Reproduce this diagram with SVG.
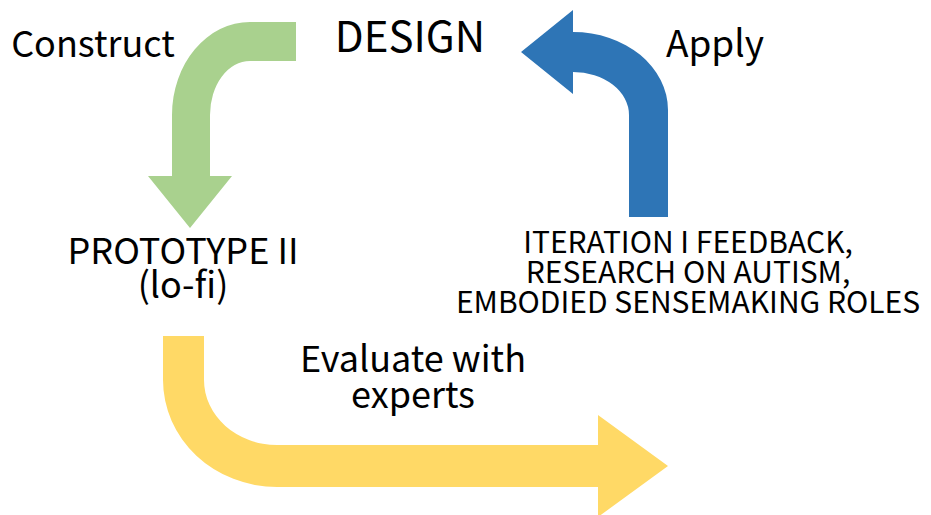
<svg xmlns="http://www.w3.org/2000/svg" width="931" height="515" viewBox="0 0 931 515">
  <style>
    text { font-family: "Noto Sans CJK SC", "Noto Sans", "Liberation Sans", sans-serif; font-weight: 400; fill: #000; text-anchor: middle; }
    .big { font-size: 42px; }
    .lbl { font-size: 36px; }
    .apply { font-size: 37px; }
    .node { font-size: 36px; }
    .eval { font-size: 36px; }
    .src { font-size: 30px; }
  </style>
  <rect width="931" height="515" fill="#fff"/>

  <g id="connectors">
    <!-- Construct: DESIGN -> PROTOTYPE II -->
    <path id="arrow-construct" fill="#A9D18E"
          d="M296,22 L250,22 A78,93 0 0 0 172,115 L172,176 L148,176 L190,228 L232,176 L210,176 L210,115 A40,54 0 0 1 250,61 L296,61 Z"/>
    <!-- Apply: feedback -> DESIGN -->
    <path id="arrow-apply" fill="#2E75B6"
          d="M668,217 L668,110 A95,78 0 0 0 573,32 L573,10 L521,52 L573,94 L573,72 A56,43 0 0 1 629,115 L629,217 Z"/>
    <!-- Evaluate with experts -->
    <path id="arrow-evaluate" fill="#FFD966"
          d="M163,336 L204,336 L204,380 A73,65 0 0 0 277,445 L598,445 L598,415 L668,466 L598,517 L598,487 L277,487 A114,107 0 0 1 163,380 Z"/>
  </g>

  <g id="label-construct"><text class="lbl" x="93" y="57">Construct</text></g>
  <g id="node-design"><text class="big" x="410" y="52">DESIGN</text></g>
  <g id="label-apply"><text class="apply" x="715" y="57">Apply</text></g>
  <g id="node-prototype">
    <text class="node" x="183" y="264">PROTOTYPE II</text>
    <text class="node" x="183" y="298">(lo-fi)</text>
  </g>
  <g id="node-feedback">
    <text class="src" x="688" y="253">ITERATION I FEEDBACK,</text>
    <text class="src" x="688" y="283">RESEARCH ON AUTISM,</text>
    <text class="src" x="688" y="313">EMBODIED SENSEMAKING ROLES</text>
  </g>
  <g id="label-evaluate">
    <text class="eval" x="413" y="372">Evaluate with</text>
    <text class="eval" x="413" y="408">experts</text>
  </g>
</svg>
